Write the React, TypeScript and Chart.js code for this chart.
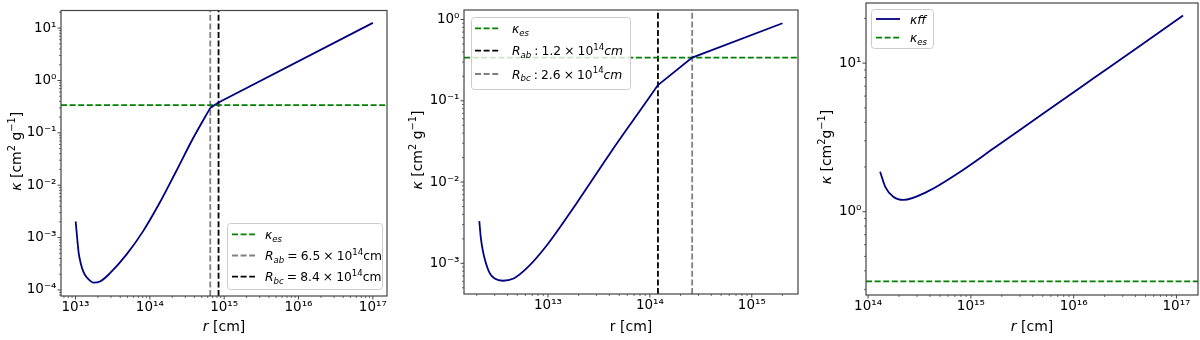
import React, { useEffect, useRef } from 'react';
import { Chart, registerables } from 'chart.js';

Chart.register(...registerables);

// ---------------- data ----------------
const KAPPA_ES = 0.34;

// Panel A
const radiusA = [1.005e13, 1.059e13, 1.104e13, 1.175e13, 1.274e13, 1.413e13, 1.567e13, 1.738e13, 2.14e13, 2.91e13, 4.81e13, 8.05e13, 1.35e14, 2.26e14, 3.8e14, 6.5e14, 8.4e14, 1.0e17];
const kappaA = [2.03e-3, 9.0e-4, 5.03e-4, 3.24e-4, 2.24e-4, 1.75e-4, 1.51e-4, 1.38e-4, 1.45e-4, 2.09e-4, 4.67e-4, 1.3e-3, 4.57e-3, 1.85e-2, 7.8e-2, 0.30, 0.38, 12.6];
const rAbA = 6.5e14;
const rBcA = 8.4e14;
const xRangeA = [6.38e12, 1.55e17];
const yRangeA = [7.67e-5, 21.7];
const xTicksA = [1e13, 1e14, 1e15, 1e16, 1e17];
const xTickLabelsA = ['10¹³', '10¹⁴', '10¹⁵', '10¹⁶', '10¹⁷'];
const yTicksA = [1e-4, 1e-3, 1e-2, 1e-1, 1e0, 1e1];
const yTickLabelsA = ['10⁻⁴', '10⁻³', '10⁻²', '10⁻¹', '10⁰', '10¹'];

// Panel B
const radiusB = [2.12e12, 2.19e12, 2.29e12, 2.41e12, 2.69e12, 3.0e12, 3.6e12, 4.6e12, 6.2e12, 9.8e12, 1.91e13, 4.06e13, 7.4e13, 1.2e14, 2.6e14, 2.0e15];
const kappaB = [3.3e-3, 2.1e-3, 1.45e-3, 1.1e-3, 7.5e-4, 6.5e-4, 6.1e-4, 6.5e-4, 8.7e-4, 1.68e-3, 5.5e-3, 2.25e-2, 6.6e-2, 0.156, 0.34, 0.90];
const rAbB = 1.2e14;
const rBcB = 2.6e14;
const xRangeB = [1.5e12, 2.84e15];
const yRangeB = [4.19e-4, 1.31];
const xTicksB = [1e13, 1e14, 1e15];
const xTickLabelsB = ['10¹³', '10¹⁴', '10¹⁵'];
const yTicksB = [1e-3, 1e-2, 1e-1, 1e0];
const yTickLabelsB = ['10⁻³', '10⁻²', '10⁻¹', '10⁰'];

// Panel C
const radiusC = [1.31e14, 1.47e14, 1.76e14, 2.21e14, 3.73e14, 7.9e14, 1.67e15, 5.1e15, 1.56e16, 4.8e16, 1.16e17];
const kappaC = [1.86, 1.47, 1.26, 1.2, 1.36, 1.86, 2.67, 4.6, 7.9, 13.6, 20.9];
const xRangeC = [9.55e13, 1.62e17];
const yRangeC = [0.275, 25.4];
const xTicksC = [1e14, 1e15, 1e16, 1e17];
const xTickLabelsC = ['10¹⁴', '10¹⁵', '10¹⁶', '10¹⁷'];
const yTicksC = [1e0, 1e1];
const yTickLabelsC = ['10⁰', '10¹'];

// ---------------- styling helpers ----------------
const W = 400;
const H = 340;
const FAMILY = '"DejaVu Sans", sans-serif';
const NAVY = '#000080';
const GREEN = '#008000';
const GRAY = '#808080';
const BLACK = '#000000';
const DASH = [6, 2.6];
const LW = 1.8;
const SP = '\u2005';

type Run = { t: string; it?: boolean; sub?: boolean; sup?: boolean };

function fontFor(r: Run, size: number) {
  const s = r.sub || r.sup ? size * 0.7 : size;
  return `${r.it ? 'italic ' : ''}${s}px ${FAMILY}`;
}
function measureRuns(ctx: CanvasRenderingContext2D, runs: Run[], size: number) {
  let w = 0;
  for (const r of runs) {
    ctx.font = fontFor(r, size);
    w += ctx.measureText(r.t).width;
  }
  return w;
}
function drawRuns(ctx: CanvasRenderingContext2D, runs: Run[], x: number, y: number, size: number) {
  let cx = x;
  ctx.textBaseline = 'alphabetic';
  ctx.textAlign = 'left';
  for (const r of runs) {
    ctx.font = fontFor(r, size);
    const dy = r.sub ? size * 0.22 : r.sup ? -size * 0.42 : 0;
    ctx.fillText(r.t, cx, y + dy);
    cx += ctx.measureText(r.t).width;
  }
}

const kappaEsRuns: Run[] = [{ t: 'κ', it: true }, { t: 'es', it: true, sub: true }];

type LegendRow = { color: string; dash: number[]; runs: Run[] };
type PanelCfg = {
  xRange: number[];
  yRange: number[];
  xTicks: number[];
  xTickLabels: string[];
  yTicks: number[];
  yTickLabels: string[];
  datasets: any[];
  area: { left: number; top: number; right: number; bottom: number };
  xTitle: Run[];
  yTitle: Run[];
  yTitleX: number;
  legend: { x: number; y: number; w: number; h: number; s0: number; s1: number; tx: number; rows: number[]; items: LegendRow[] };
};

function pts(xs: number[], ys: number[]) {
  return xs.map((x, i) => ({ x, y: ys[i] }));
}
function curveSets(xs: number[], ys: number[], breakAt?: number) {
  const all = pts(xs, ys);
  const base = { type: 'line', borderColor: NAVY, borderWidth: LW, pointRadius: 0, fill: false, order: 0 };
  if (!breakAt) return [{ ...base, data: all, cubicInterpolationMode: 'monotone' }];
  return [
    { ...base, data: all.filter((p) => p.x <= breakAt), cubicInterpolationMode: 'monotone' },
    { ...base, data: all.filter((p) => p.x >= breakAt), tension: 0 },
  ];
}
function hLine(y: number, xr: number[], color: string, order: number) {
  return { type: 'line', data: [{ x: xr[0], y }, { x: xr[1], y }], borderColor: color, borderWidth: LW, borderDash: DASH, pointRadius: 0, tension: 0, order };
}
function vLine(x: number, yr: number[], color: string, order: number) {
  return { type: 'line', data: [{ x, y: yr[0] }, { x, y: yr[1] }], borderColor: color, borderWidth: LW, borderDash: DASH, pointRadius: 0, tension: 0, order };
}

function labelFor(ticks: number[], labels: string[]) {
  return (value: any) => {
    const v = Number(value);
    const i = ticks.findIndex((t) => Math.abs(Math.log10(t) - Math.log10(v)) < 1e-6);
    return i >= 0 ? labels[i] : '';
  };
}

function minorTicks(min: number, max: number) {
  const out: { v: number; major: boolean }[] = [];
  for (let e = Math.floor(Math.log10(min)) - 1; e <= Math.ceil(Math.log10(max)); e++) {
    for (let k = 1; k <= 9; k++) {
      const v = k * Math.pow(10, e);
      if (v >= min && v <= max) out.push({ v, major: k === 1 });
    }
  }
  return out;
}

function makeDecor(cfg: PanelCfg) {
  return {
    id: 'mplDecor',
    afterDraw(chart: any) {
      const ctx: CanvasRenderingContext2D = chart.ctx;
      const a = chart.chartArea;
      const xs = chart.scales.x;
      const ys = chart.scales.y;
      ctx.save();
      // frame
      ctx.setLineDash([]);
      ctx.strokeStyle = '#444';
      ctx.lineWidth = 1.2;
      ctx.strokeRect(a.left, a.top, a.right - a.left, a.bottom - a.top);
      // ticks
      for (const t of minorTicks(cfg.xRange[0], cfg.xRange[1])) {
        const px = xs.getPixelForValue(t.v);
        const len = t.major ? 3.5 : 2;
        ctx.lineWidth = t.major ? 1 : 0.8;
        ctx.beginPath();
        ctx.moveTo(px, a.bottom);
        ctx.lineTo(px, a.bottom + len);
        ctx.stroke();
      }
      for (const t of minorTicks(cfg.yRange[0], cfg.yRange[1])) {
        const py = ys.getPixelForValue(t.v);
        const len = t.major ? 3.5 : 2;
        ctx.lineWidth = t.major ? 1 : 0.8;
        ctx.beginPath();
        ctx.moveTo(a.left, py);
        ctx.lineTo(a.left - len, py);
        ctx.stroke();
      }
      // legend
      const L = cfg.legend;
      ctx.beginPath();
      (ctx as any).roundRect(L.x + 0.5, L.y + 0.5, L.w, L.h, 3);
      ctx.fillStyle = 'rgba(255,255,255,0.8)';
      ctx.fill();
      ctx.strokeStyle = '#cccccc';
      ctx.lineWidth = 1;
      ctx.stroke();
      L.items.forEach((it, i) => {
        const ry = L.rows[i];
        ctx.strokeStyle = it.color;
        ctx.lineWidth = LW;
        ctx.setLineDash(it.dash);
        ctx.beginPath();
        ctx.moveTo(L.s0, ry);
        ctx.lineTo(L.s1, ry);
        ctx.stroke();
        ctx.setLineDash([]);
        ctx.fillStyle = '#000';
        drawRuns(ctx, it.runs, L.tx, ry + 4.5, 12.3);
      });
      // axis titles
      ctx.fillStyle = '#000';
      const tsize = 14;
      const xw = measureRuns(ctx, cfg.xTitle, tsize);
      drawRuns(ctx, cfg.xTitle, (a.left + a.right) / 2 - xw / 2, 331, tsize);
      const yw = measureRuns(ctx, cfg.yTitle, tsize);
      ctx.save();
      ctx.translate(cfg.yTitleX, (a.top + a.bottom) / 2 - 2);
      ctx.rotate(-Math.PI / 2);
      drawRuns(ctx, cfg.yTitle, -yw / 2, 0, tsize);
      ctx.restore();
      ctx.restore();
    },
  };
}

function buildConfig(cfg: PanelCfg): any {
  const area = cfg.area;
  const tickFont = { family: FAMILY, size: 13.5 };
  const zeroPad = (s: any) => {
    s.paddingLeft = 0;
    s.paddingRight = 0;
    s.paddingTop = 0;
    s.paddingBottom = 0;
  };
  return {
    type: 'line',
    data: { datasets: cfg.datasets },
    plugins: [makeDecor(cfg)],
    options: {
      responsive: false,
      animation: false,
      devicePixelRatio: 1,
      events: [],
      layout: { padding: { left: 0, top: area.top, right: W - area.right, bottom: 0 } },
      plugins: { legend: { display: false }, tooltip: { enabled: false } },
      scales: {
        x: {
          type: 'logarithmic',
          position: 'bottom',
          min: cfg.xRange[0],
          max: cfg.xRange[1],
          grid: { display: false, drawTicks: false },
          border: { display: false },
          ticks: { autoSkip: false, maxRotation: 0, minRotation: 0, padding: 3.5, color: '#000', font: tickFont, callback: labelFor(cfg.xTicks, cfg.xTickLabels) },
          afterBuildTicks: (s: any) => {
            s.ticks = cfg.xTicks.map((v) => ({ value: v }));
          },
          afterFit: (s: any) => {
            s.height = H - area.bottom;
            zeroPad(s);
          },
        },
        y: {
          type: 'logarithmic',
          position: 'left',
          min: cfg.yRange[0],
          max: cfg.yRange[1],
          grid: { display: false, drawTicks: false },
          border: { display: false },
          ticks: { autoSkip: false, padding: 4.5, color: '#000', font: tickFont, callback: labelFor(cfg.yTicks, cfg.yTickLabels) },
          afterBuildTicks: (s: any) => {
            s.ticks = cfg.yTicks.map((v) => ({ value: v }));
          },
          afterFit: (s: any) => {
            s.width = area.left;
            zeroPad(s);
          },
        },
      },
    },
  };
}

const yTitleStd: Run[] = [{ t: 'κ', it: true }, { t: ' [cm' }, { t: '2', sup: true }, { t: ' g' }, { t: '−1', sup: true }, { t: ']' }];
const yTitleTight: Run[] = [{ t: 'κ', it: true }, { t: ' [cm' }, { t: '2', sup: true }, { t: 'g' }, { t: '−1', sup: true }, { t: ']' }];

const panelA: PanelCfg = {
  xRange: xRangeA,
  yRange: yRangeA,
  xTicks: xTicksA,
  xTickLabels: xTickLabelsA,
  yTicks: yTicksA,
  yTickLabels: yTickLabelsA,
  datasets: [
    ...curveSets(radiusA, kappaA, rAbA),
    hLine(KAPPA_ES, xRangeA, GREEN, 1),
    vLine(rAbA, yRangeA, GRAY, 2),
    vLine(rBcA, yRangeA, BLACK, 3),
  ],
  area: { left: 61, top: 10.5, right: 387, bottom: 296 },
  xTitle: [{ t: 'r', it: true }, { t: ' [cm]' }],
  yTitle: yTitleStd,
  yTitleX: 21,
  legend: {
    x: 227, y: 223, w: 155, h: 66, s0: 232, s1: 255, tx: 265, rows: [234.3, 255.5, 276.7],
    items: [
      { color: GREEN, dash: DASH, runs: kappaEsRuns },
      { color: GRAY, dash: DASH, runs: [{ t: 'R', it: true }, { t: 'ab', it: true, sub: true }, { t: `${SP}=${SP}6.5${SP}×${SP}10` }, { t: '14', sup: true }, { t: 'cm' }] },
      { color: BLACK, dash: DASH, runs: [{ t: 'R', it: true }, { t: 'bc', it: true, sub: true }, { t: `${SP}=${SP}8.4${SP}×${SP}10` }, { t: '14', sup: true }, { t: 'cm' }] },
    ],
  },
};

const panelB: PanelCfg = {
  xRange: xRangeB,
  yRange: yRangeB,
  xTicks: xTicksB,
  xTickLabels: xTickLabelsB,
  yTicks: yTicksB,
  yTickLabels: yTickLabelsB,
  datasets: [
    ...curveSets(radiusB, kappaB, rAbB),
    hLine(KAPPA_ES, xRangeB, GREEN, 1),
    vLine(rAbB, yRangeB, BLACK, 2),
    vLine(rBcB, yRangeB, GRAY, 3),
  ],
  area: { left: 64, top: 10, right: 398, bottom: 294 },
  xTitle: [{ t: 'r [cm]' }],
  yTitle: yTitleStd,
  yTitleX: 21.5,
  legend: {
    x: 71, y: 17, w: 159, h: 72, s0: 75, s1: 100, tx: 112, rows: [28.3, 50.7, 74],
    items: [
      { color: GREEN, dash: DASH, runs: kappaEsRuns },
      { color: BLACK, dash: DASH, runs: [{ t: 'R', it: true }, { t: 'ab', it: true, sub: true }, { t: `${SP}:${SP}1.2${SP}×${SP}10` }, { t: '14', sup: true }, { t: 'cm', it: true }] },
      { color: GRAY, dash: DASH, runs: [{ t: 'R', it: true }, { t: 'bc', it: true, sub: true }, { t: `${SP}:${SP}2.6${SP}×${SP}10` }, { t: '14', sup: true }, { t: 'cm', it: true }] },
    ],
  },
};

const panelC: PanelCfg = {
  xRange: xRangeC,
  yRange: yRangeC,
  xTicks: xTicksC,
  xTickLabels: xTickLabelsC,
  yTicks: yTicksC,
  yTickLabels: yTickLabelsC,
  datasets: [...curveSets(radiusC, kappaC), hLine(KAPPA_ES, xRangeC, GREEN, 1)],
  area: { left: 66, top: 3, right: 398, bottom: 295 },
  xTitle: [{ t: 'r', it: true }, { t: ' [cm]' }],
  yTitle: yTitleTight,
  yTitleX: 31,
  legend: {
    x: 71, y: 9, w: 62, h: 39, s0: 76, s1: 100, tx: 110, rows: [19, 37.7],
    items: [
      { color: NAVY, dash: [], runs: [{ t: 'κff', it: true }] },
      { color: GREEN, dash: DASH, runs: kappaEsRuns },
    ],
  },
};

function Panel({ cfg, left }: { cfg: PanelCfg; left: number }) {
  const ref = useRef<HTMLCanvasElement>(null);
  useEffect(() => {
    const chart = new Chart(ref.current as HTMLCanvasElement, buildConfig(cfg));
    return () => chart.destroy();
  }, [cfg]);
  return (
    <canvas
      ref={ref}
      width={W}
      height={H}
      style={{ position: 'absolute', left, top: 0, width: W, height: H, display: 'block' }}
    />
  );
}

export default function App() {
  return (
    <div style={{ position: 'absolute', left: 0, top: 0, width: 1200, height: 340, background: '#fff', overflow: 'hidden' }}>
      <Panel cfg={panelA} left={0} />
      <Panel cfg={panelB} left={400} />
      <Panel cfg={panelC} left={800} />
    </div>
  );
}
